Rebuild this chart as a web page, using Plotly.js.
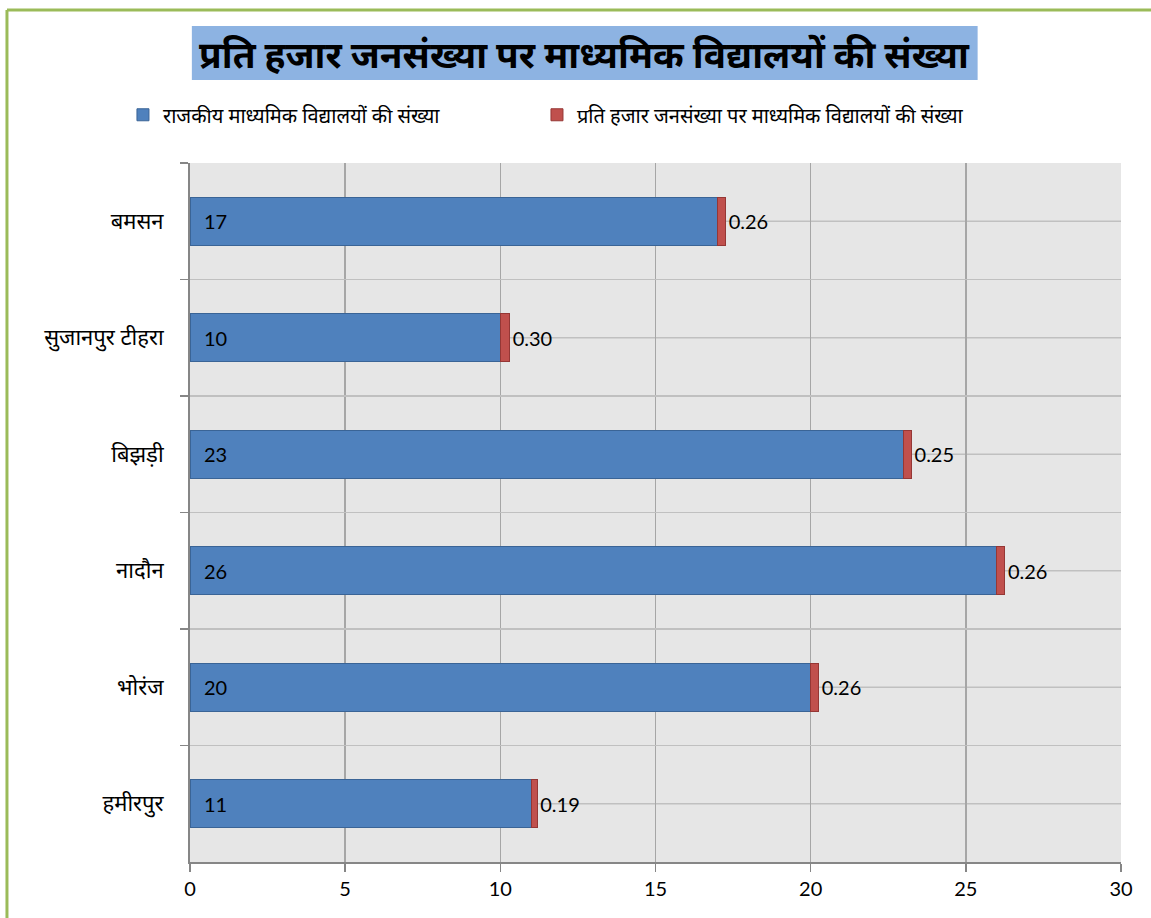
<!DOCTYPE html>
<html>
<head>
<meta charset="utf-8">
<script src="https://cdn.plot.ly/plotly-3.0.1.min.js"></script>
<style>html,body{margin:0;padding:0;background:#fff;}#chart{width:1151px;height:918px;}</style>
</head>
<body>
<div id="chart"></div>
<script>
// Data (top to bottom as shown)
const districts = ['बमसन', 'सुजानपुर टीहरा', 'बिझड़ी', 'नादौन', 'भोरंज', 'हमीरपुर'];
const schools = [17, 10, 23, 26, 20, 11];
const perThousand = [0.26, 0.30, 0.25, 0.26, 0.26, 0.19];
const perThousandLabels = ['0.26', '0.30', '0.25', '0.26', '0.26', '0.19'];
const seriesNames = ['राजकीय माध्यमिक विद्यालयों की संख्या', 'प्रति हजार जनसंख्या पर माध्यमिक विद्यालयों की संख्या'];
const chartTitle = 'प्रति हजार जनसंख्या पर माध्यमिक विद्यालयों की संख्या';
const xTicks = [0, 5, 10, 15, 20, 25, 30];

const FONT = 'Lato, "Noto Sans", "Noto Sans Devanagari", sans-serif';

const traces = [
  {
    type: 'bar', orientation: 'h', name: seriesNames[0], legend: 'legend',
    y: districts, x: schools,
    marker: {color: '#4f81bd', line: {color: '#3a6496', width: 1}},
    hoverinfo: 'x+y'
  },
  {
    type: 'bar', orientation: 'h', name: seriesNames[1], legend: 'legend2',
    y: districts, x: perThousand,
    text: perThousandLabels, textposition: 'outside', cliponaxis: false,
    textfont: {family: FONT, size: 20, color: '#000'},
    marker: {color: '#c0504d', line: {color: '#953735', width: 1}},
    hoverinfo: 'x+y'
  }
];

const annotations = districts.map((d, i) => ({
  x: 0, y: d, xref: 'x', yref: 'y', text: String(schools[i]),
  xanchor: 'left', yanchor: 'middle', xshift: 12, showarrow: false,
  font: {family: FONT, size: 20, color: '#000'}
}));
annotations.push({
  xref: 'paper', yref: 'paper', x: 0.424, y: 1.157, xanchor: 'center', yanchor: 'middle',
  text: '<b>' + chartTitle + '</b>', showarrow: false,
  font: {family: FONT, size: 37, color: '#000'}
});

const shapes = [];
// title box
shapes.push({type: 'rect', xref: 'paper', yref: 'paper', x0: 0.002, x1: 0.846, y0: 1.1187, y1: 1.196,
  fillcolor: '#8db3e2', line: {width: 0}, layer: 'below'});
// green frame
shapes.push({type: 'line', xref: 'paper', yref: 'paper', x0: -0.1966, x1: -0.1966, y0: -0.1, y1: 1.2189,
  line: {color: '#9bbb59', width: 3}});
shapes.push({type: 'line', xref: 'paper', yref: 'paper', x0: -0.1966, x1: 1.1, y0: 1.2189, y1: 1.2189,
  line: {color: '#9bbb59', width: 3}});
// center gridlines
districts.forEach((d, i) => {
  shapes.push({type: 'line', xref: 'paper', yref: 'y', x0: 0, x1: 1, y0: i, y1: i,
    line: {color: '#c0c0c0', width: 1.5}, layer: 'below'});
});

const legendBase = {orientation: 'h', xanchor: 'left', y: 1.069, yanchor: 'middle',
  font: {family: FONT, size: 20, color: '#000'}, itemwidth: 30, bgcolor: 'rgba(0,0,0,0)'};

const layout = {
  width: 1151, height: 918,
  margin: {l: 190, r: 30, t: 163, b: 56},
  paper_bgcolor: '#ffffff', plot_bgcolor: '#e6e6e6',
  barmode: 'stack', bargap: 0.59,
  font: {family: FONT, size: 18, color: '#000'},
  showlegend: true,
  legend: Object.assign({}, legendBase, {x: -0.072}),
  legend2: Object.assign({}, legendBase, {x: 0.3727}),
  xaxis: {
    range: [0, 30], tickvals: xTicks, ticktext: xTicks.map(String),
    showgrid: true, gridcolor: '#a6a6a6', gridwidth: 1.5,
    showline: true, linecolor: '#868686', linewidth: 2,
    ticks: 'outside', ticklen: 8, tickcolor: '#868686', tickwidth: 1.5,
    zeroline: false, tickfont: {family: FONT, size: 20, color: '#000'}, fixedrange: true
  },
  yaxis: {
    type: 'category', autorange: 'reversed', tickson: 'boundaries',
    showgrid: true, gridcolor: '#c0c0c0', gridwidth: 1.5,
    showline: true, linecolor: '#868686', linewidth: 2,
    ticks: 'outside', ticklen: 8, tickcolor: '#868686', tickwidth: 1.5,
    ticklabelstandoff: 20,
    tickfont: {family: FONT, size: 22, color: '#000'}, fixedrange: true
  },
  shapes: shapes,
  annotations: annotations
};

Plotly.newPlot('chart', traces, layout, {displayModeBar: false, staticPlot: true});
</script>
</body>
</html>
